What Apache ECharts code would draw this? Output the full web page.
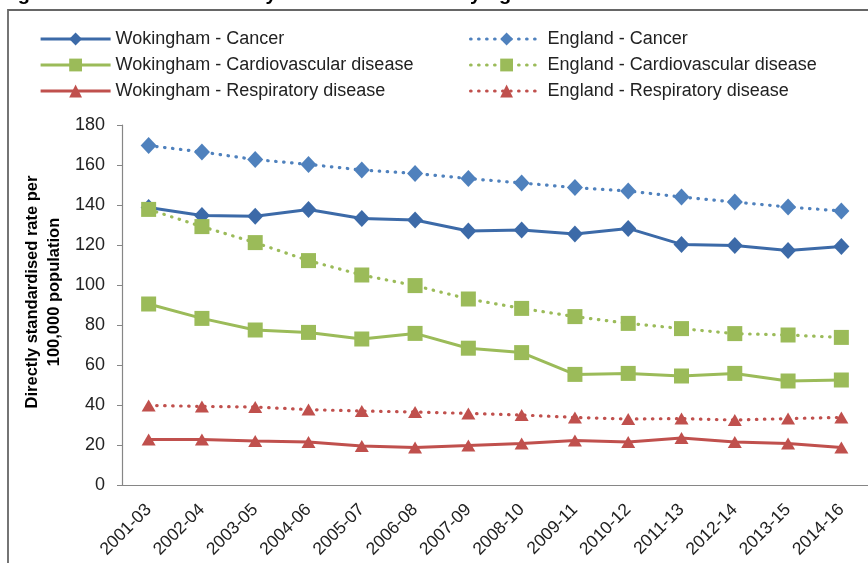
<!DOCTYPE html>
<html>
<head>
<meta charset="utf-8">
<script src="https://cdn.jsdelivr.net/npm/echarts@6/dist/echarts.min.js"></script>
<style>
  html, body { margin: 0; padding: 0; background: #fff; }
  #chart { width: 868px; height: 563px; }
</style>
</head>
<body>
<div id="chart"></div>
<script>
const periods = ['2001-03', '2002-04', '2003-05', '2004-06', '2005-07', '2006-08', '2007-09',
  '2008-10', '2009-11', '2010-12', '2011-13', '2012-14', '2013-15', '2014-16'];

const wokCancer = [138.8, 134.7, 134.4, 137.8, 133.2, 132.5, 127, 127.5, 125.5, 128.3, 120.3, 119.7, 117.2, 119.2];
const engCancer = [169.7, 166.5, 162.7, 160.3, 157.5, 155.8, 153.2, 151, 148.7, 147, 144, 141.5, 139, 137];
const wokCvd = [90.5, 83.3, 77.5, 76.3, 73, 75.8, 68.4, 66.2, 55.3, 55.8, 54.5, 55.8, 52, 52.5];
const engCvd = [137.8, 129.2, 121.2, 112.2, 105, 99.7, 93, 88.3, 84.2, 80.8, 78.2, 75.7, 75, 73.8];
const wokResp = [22.8, 22.8, 22, 21.5, 19.5, 18.8, 19.7, 20.8, 22.3, 21.5, 23.5, 21.5, 20.8, 18.8];
const engResp = [39.8, 39.3, 39, 37.7, 37, 36.5, 35.8, 35, 33.8, 33, 33.2, 32.5, 33.2, 33.8];

const yTicks = [0, 20, 40, 60, 80, 100, 120, 140, 160, 180];

const blueDark = '#3c6aa8';
const blue = '#4f81bd';
const green = '#9bbb59';
const red = '#c0504d';
const dots = [0.5, 7.5];

const chart = echarts.init(document.getElementById('chart'));

const makeSeries = (name, data, color, symbol, size, dotted) => ({
  name: name,
  type: 'line',
  data: data,
  symbol: symbol,
  symbolSize: size,
  showSymbol: true,
  itemStyle: { color: color },
  lineStyle: dotted
    ? { color: color, width: 3.2, type: dots, cap: 'round' }
    : { color: color, width: 3 },
  emphasis: { disabled: true },
  animation: false
});

const legendText = { fontFamily: 'Liberation Sans', fontSize: 18, color: '#222' };

chart.setOption({
  backgroundColor: '#fff',
  animation: false,
  graphic: [
    {
      type: 'text',
      left: 0,
      top: -16,
      style: {
        text: 'Figure 14: Under 75 mortality rate for main underlying causes of death',
        font: 'bold 20px "Liberation Sans"',
        fill: '#000'
      }
    },
    {
      type: 'rect',
      shape: { x: 8, y: 10, width: 1000, height: 700 },
      style: { fill: 'none', stroke: '#666', lineWidth: 1.8 },
      z: -1
    },
    {
      type: 'text',
      x: 43,
      y: 292,
      rotation: Math.PI / 2,
      style: {
        text: 'Directly standardised rate per\n100,000 population',
        font: 'bold 16.5px "Liberation Sans"',
        lineHeight: 22,
        fill: '#000',
        align: 'center',
        verticalAlign: 'middle'
      }
    }
  ],
  legend: [
    {
      orient: 'vertical',
      left: 39,
      top: 30,
      padding: 0,
      itemWidth: 70,
      itemHeight: 16,
      itemGap: 8,
      lineStyle: { width: 3.2 },
      textStyle: legendText,
      data: ['Wokingham - Cancer', 'Wokingham - Cardiovascular disease', 'Wokingham - Respiratory disease']
    },
    {
      orient: 'vertical',
      left: 469,
      top: 30,
      padding: 0,
      itemWidth: 72,
      itemHeight: 16,
      itemGap: 8,
      lineStyle: { width: 3.2 },
      textStyle: legendText,
      data: ['England - Cancer', 'England - Cardiovascular disease', 'England - Respiratory disease']
    }
  ],
  grid: { left: 122, right: -1, top: 125, bottom: 78, containLabel: false },
  xAxis: {
    type: 'category',
    data: periods,
    boundaryGap: true,
    axisLine: { lineStyle: { color: '#868686', width: 1.2 } },
    axisTick: { length: 5, lineStyle: { color: '#868686' } },
    axisLabel: {
      rotate: 45,
      margin: 22,
      fontFamily: 'Liberation Sans',
      fontSize: 17.5,
      color: '#222',
      interval: 0
    }
  },
  yAxis: {
    type: 'value',
    min: yTicks[0],
    max: yTicks[yTicks.length - 1],
    interval: 20,
    axisLine: { show: true, lineStyle: { color: '#868686', width: 1.2 } },
    axisTick: { show: true, length: 5, lineStyle: { color: '#868686' } },
    splitLine: { show: false },
    axisLabel: {
      margin: 17,
      fontFamily: 'Liberation Sans',
      fontSize: 18,
      color: '#222'
    }
  },
  series: [
    makeSeries('Wokingham - Cancer', wokCancer, blueDark, 'diamond', [16, 17], false),
    makeSeries('Wokingham - Cardiovascular disease', wokCvd, green, 'rect', 15, false),
    makeSeries('Wokingham - Respiratory disease', wokResp, red, 'triangle', [14, 12], false),
    makeSeries('England - Cancer', engCancer, blue, 'diamond', [16, 17], true),
    makeSeries('England - Cardiovascular disease', engCvd, green, 'rect', 15, true),
    makeSeries('England - Respiratory disease', engResp, red, 'triangle', [14, 12], true)
  ]
});
</script>
</body>
</html>
